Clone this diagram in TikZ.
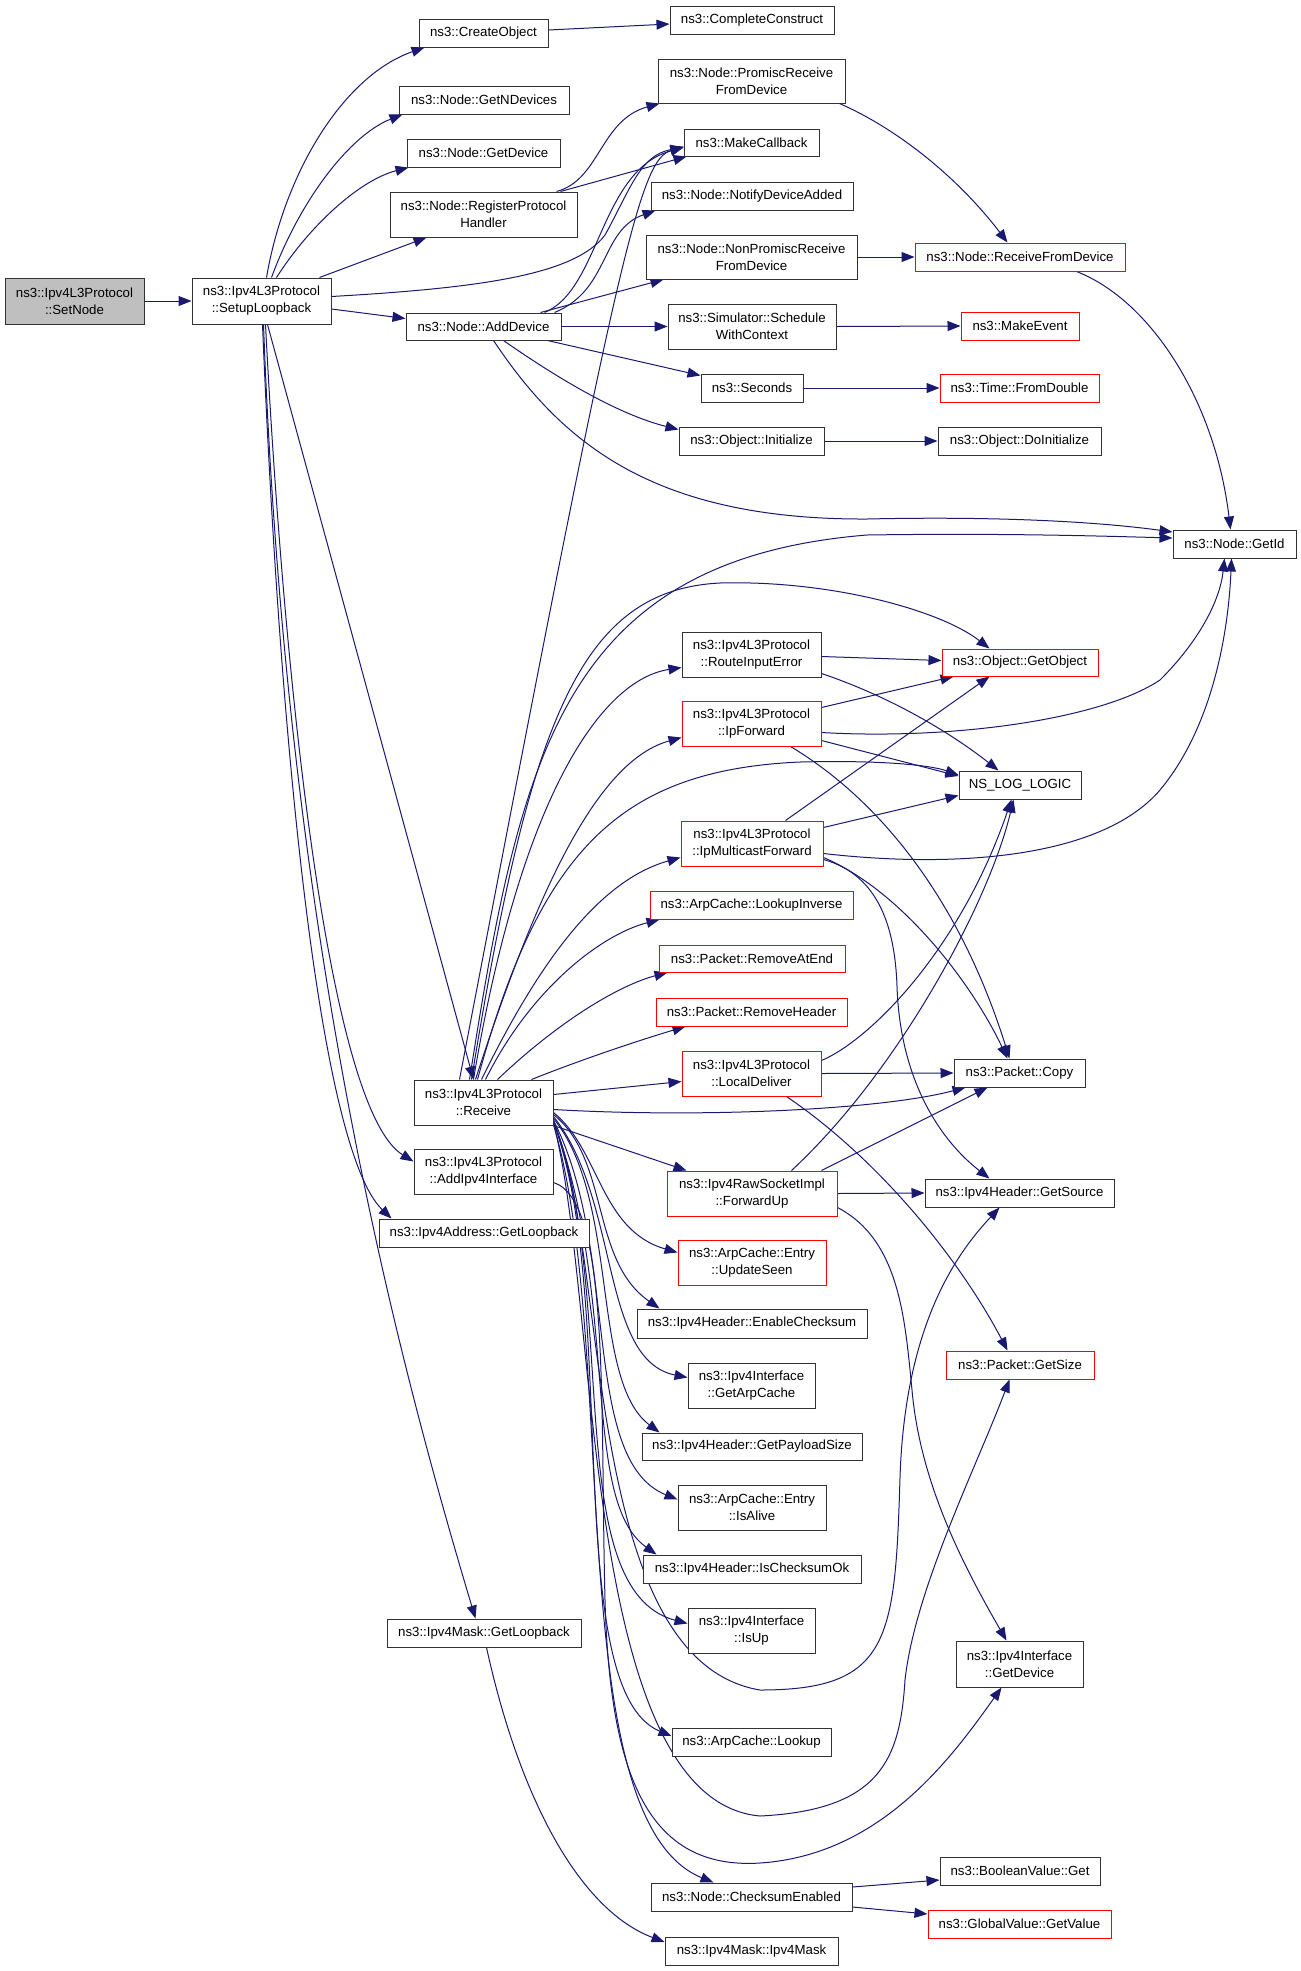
\documentclass[tikz,border=0pt]{standalone}
\usepackage{fontspec}
\setmainfont{Liberation Sans}
\usetikzlibrary{arrows.meta,calc}
\definecolor{edgec}{HTML}{191970}
\definecolor{grayfill}{HTML}{BFBFBF}
\definecolor{boxline}{HTML}{333333}
\pgfdeclarelayer{bg}
\pgfsetlayers{bg,main}
\newcommand\nd[7]{\node[box,#6,minimum width={((#4)-(#2))*1bp},minimum height={((#5)-(#3))*1bp}] (#1) at ({((#2)+(#4))/2},{((#3)+(#5))/2}) {#7};}
\tikzset{
  box/.style={draw=boxline, line width=1bp, inner sep=0pt, align=center, fill=white,
    font=\fontsize{13.3}{17}\selectfont},
  blk/.style={},
  redb/.style={draw=red},
  grayb/.style={fill=grayfill},
  e/.style={draw=edgec, line width=1bp, -{Triangle[length=13bp,width=10bp]}, fill=none}
}
\begin{document}
\begin{tikzpicture}[x=1bp,y=-1bp]
\useasboundingbox (0,0) rectangle (1301,1971);
\nd{setnode}{5}{278}{144}{324}{grayb}{ns3::Ipv4L3Protocol\\::SetNode}
\nd{setup}{192}{278}{331}{324}{blk}{ns3::Ipv4L3Protocol\\::SetupLoopback}
\nd{createobj}{419}{19}{548}{47}{blk}{ns3::CreateObject}
\nd{complete}{670}{6}{834}{34}{blk}{ns3::CompleteConstruct}
\nd{getndev}{399}{86}{569}{114}{blk}{ns3::Node::GetNDevices}
\nd{getdev}{407}{139}{560}{167}{blk}{ns3::Node::GetDevice}
\nd{regph}{390}{192}{577}{237}{blk}{ns3::Node::RegisterProtocol\\Handler}
\nd{adddev}{406}{313}{561}{340}{blk}{ns3::Node::AddDevice}
\nd{promisc}{658}{59}{845}{103}{blk}{ns3::Node::PromiscReceive\\FromDevice}
\nd{makecb}{684}{129}{819}{156}{blk}{ns3::MakeCallback}
\nd{notify}{651}{182}{853}{210}{blk}{ns3::Node::NotifyDeviceAdded}
\nd{nonpromisc}{646}{235}{857}{279}{blk}{ns3::Node::NonPromiscReceive\\FromDevice}
\nd{sched}{668}{304}{836}{349}{blk}{ns3::Simulator::Schedule\\WithContext}
\nd{seconds}{701}{374}{803}{402}{blk}{ns3::Seconds}
\nd{init}{679}{427}{824}{455}{blk}{ns3::Object::Initialize}
\nd{recvfrom}{915}{243}{1125}{271}{redb}{ns3::Node::ReceiveFromDevice}
\nd{makeevent}{961}{312}{1079}{340}{redb}{ns3::MakeEvent}
\nd{fromdouble}{940}{374}{1099}{402}{redb}{ns3::Time::FromDouble}
\nd{doinit}{938}{427}{1101}{455}{blk}{ns3::Object::DoInitialize}
\nd{getid}{1173}{530}{1296}{558}{blk}{ns3::Node::GetId}
\nd{getobj}{942}{649}{1098}{676}{redb}{ns3::Object::GetObject}
\nd{nslog}{959}{771}{1081}{799}{blk}{NS\_LOG\_LOGIC}
\nd{routeerr}{682}{632}{821}{677}{blk}{ns3::Ipv4L3Protocol\\::RouteInputError}
\nd{ipfwd}{682}{701}{821}{746}{redb}{ns3::Ipv4L3Protocol\\::IpForward}
\nd{ipmcast}{681}{821}{823}{866}{redb}{ns3::Ipv4L3Protocol\\::IpMulticastForward}
\nd{lookinv}{650}{891}{853}{919}{redb}{ns3::ArpCache::LookupInverse}
\nd{rmend}{659}{945}{845}{972}{redb}{ns3::Packet::RemoveAtEnd}
\nd{rmhdr}{656}{998}{847}{1026}{redb}{ns3::Packet::RemoveHeader}
\nd{localdel}{682}{1051}{821}{1096}{redb}{ns3::Ipv4L3Protocol\\::LocalDeliver}
\nd{receive}{414}{1080}{553}{1125}{blk}{ns3::Ipv4L3Protocol\\::Receive}
\nd{addif}{414}{1149}{553}{1194}{blk}{ns3::Ipv4L3Protocol\\::AddIpv4Interface}
\nd{addrloop}{379}{1219}{589}{1247}{blk}{ns3::Ipv4Address::GetLoopback}
\nd{fwdup}{667}{1171}{837}{1216}{redb}{ns3::Ipv4RawSocketImpl\\::ForwardUp}
\nd{updseen}{678}{1240}{826}{1285}{redb}{ns3::ArpCache::Entry\\::UpdateSeen}
\nd{enchk}{637}{1309}{867}{1338}{blk}{ns3::Ipv4Header::EnableChecksum}
\nd{getarp}{688}{1363}{815}{1408}{blk}{ns3::Ipv4Interface\\::GetArpCache}
\nd{paysize}{642}{1433}{862}{1460}{blk}{ns3::Ipv4Header::GetPayloadSize}
\nd{copy}{954}{1059}{1085}{1087}{blk}{ns3::Packet::Copy}
\nd{getsrc}{925}{1179}{1114}{1207}{blk}{ns3::Ipv4Header::GetSource}
\nd{getsize}{946}{1351}{1094}{1379}{redb}{ns3::Packet::GetSize}
\nd{isalive}{678}{1485}{826}{1530}{blk}{ns3::ArpCache::Entry\\::IsAlive}
\nd{ischk}{643}{1555}{861}{1583}{blk}{ns3::Ipv4Header::IsChecksumOk}
\nd{isup}{688}{1608}{815}{1653}{blk}{ns3::Ipv4Interface\\::IsUp}
\nd{lookup}{672}{1728}{831}{1756}{blk}{ns3::ArpCache::Lookup}
\nd{chkena}{651}{1883}{852}{1911}{blk}{ns3::Node::ChecksumEnabled}
\nd{maskctor}{665}{1937}{838}{1965}{blk}{ns3::Ipv4Mask::Ipv4Mask}
\nd{maskloop}{387}{1619}{581}{1647}{blk}{ns3::Ipv4Mask::GetLoopback}
\nd{ifdev}{956}{1641}{1083}{1687}{blk}{ns3::Ipv4Interface\\::GetDevice}
\nd{boolget}{940}{1857}{1100}{1885}{blk}{ns3::BooleanValue::Get}
\nd{globget}{928}{1910}{1111}{1938}{redb}{ns3::GlobalValue::GetValue}
\begin{pgfonlayer}{bg}
% SetNode / SetupLoopback
\draw[e] (setnode.east) -- (setup.west);
\draw[e] ($(setup.north west)+(75,0)$) .. controls (285,170) and (345,75) .. ($(createobj.south west)+(6,0)$);
\draw[e] ($(setup.north west)+(80,0)$) .. controls (300,200) and (350,135) .. ($(getndev.south west)+(4,0)$);
\draw[e] ($(setup.north west)+(85,0)$) .. controls (310,225) and (360,180) .. ($(getdev.south west)+(2,0)$);
\draw[e] ($(setup.north west)+(128,0)$) -- ($(regph.south west)+(37,0)$);
\draw[e] ($(setup.north east)+(0,19)$) .. controls (480,288) and (575,275) .. (605,235) .. controls (630,190) and (640,155) .. ($(makecb.west)+(0,5)$);
\draw[e] ($(setup.east)+(0,8)$) -- ($(adddev.west)+(0,-8)$);
\draw[e] ($(setup.south west)+(76,0)$) -- ($(receive.north west)+(60,0)$);
\draw[e] ($(setup.south west)+(74,0)$) .. controls (285,700) and (330,1110) .. ($(addif.west)+(0,-10)$);
\draw[e] ($(setup.south west)+(71,0)$) .. controls (280,750) and (320,1150) .. ($(addrloop.north west)+(13,0)$);
\draw[e] ($(setup.south west)+(72,0)$) .. controls (285,900) and (380,1300) .. ($(maskloop.north west)+(89,0)$);
% upper part
\draw[e] ($(createobj.east)+(0,-3)$) -- ($(complete.west)+(0,4)$);
\draw[e] ($(regph.north west)+(167,0)$) .. controls (600,180) and (600,120) .. ($(promisc.south west)+(2,0)$);
\draw[e] ($(regph.north west)+(171,0)$) -- ($(makecb.south west)+(3,0)$);
\draw[e] ($(adddev.north west)+(139,0)$) .. controls (600,290) and (600,170) .. ($(makecb.west)+(0,5)$);
\draw[e] ($(adddev.north west)+(149,0)$) .. controls (610,290) and (600,230) .. ($(notify.south west)+(5,0)$);
\draw[e] ($(adddev.north west)+(135,0)$) -- ($(nonpromisc.south west)+(18,0)$);
\draw[e] (adddev.east) -- (sched.west);
\draw[e] ($(adddev.south east)+(-14,0)$) -- ($(seconds.north west)+(0,2)$);
\draw[e] ($(adddev.south west)+(98,0)$) .. controls (560,380) and (620,415) .. ($(init.north west)+(0,3)$);
\draw[e] ($(adddev.south west)+(88,0)$) .. controls (560,440) and (650,520) .. (867,519) .. controls (1000,516) and (1100,522) .. ($(getid.west)+(0,-12)$);
\draw[e] ($(promisc.south east)+(-6,0)$) .. controls (900,130) and (960,180) .. ($(recvfrom.north west)+(93,0)$);
\draw[e] (nonpromisc.east) -- (recvfrom.west);
\draw[e] (sched.east) -- (makeevent.west);
\draw[e] (seconds.east) -- (fromdouble.west);
\draw[e] (init.east) -- (doinit.west);
\draw[e] ($(recvfrom.south west)+(162,0)$) .. controls (1150,300) and (1215,400) .. ($(getid.north west)+(58,0)$);
% Receive
\draw[e] ($(receive.north west)+(46,0)$) .. controls (620,240) and (640,160) .. ($(makecb.west)+(0,4)$);
\draw[e] ($(receive.north west)+(56,0)$) .. controls (520,760) and (560,560) .. (867,535) .. controls (1000,533) and (1100,536) .. ($(getid.west)+(0,-6)$);
\draw[e] ($(receive.north west)+(58,0)$) .. controls (530,720) and (580,590) .. (720,583) .. controls (830,580) and (940,610) .. ($(getobj.north west)+(48,0)$);
\draw[e] ($(receive.north west)+(60,0)$) .. controls (520,800) and (600,680) .. ($(routeerr.west)+(0,13)$);
\draw[e] ($(receive.north west)+(62,0)$) .. controls (540,880) and (600,760) .. ($(ipfwd.west)+(0,14)$);
\draw[e] ($(receive.north west)+(64,0)$) .. controls (540,850) and (620,770) .. (800,762) .. controls (880,760) and (930,765) .. ($(nslog.west)+(0,-10)$);
\draw[e] ($(receive.north west)+(68,0)$) .. controls (540,960) and (600,880) .. ($(ipmcast.west)+(0,14)$);
\draw[e] ($(receive.north west)+(72,0)$) .. controls (530,990) and (600,935) .. ($(lookinv.south west)+(10,0)$);
\draw[e] ($(receive.north west)+(84,0)$) .. controls (560,1020) and (620,985) .. ($(rmend.south west)+(9,0)$);
\draw[e] ($(receive.north west)+(118,0)$) .. controls (580,1060) and (640,1040) .. ($(rmhdr.south west)+(30,0)$);
\draw[e] ($(receive.east)+(0,-8)$) -- ($(localdel.west)+(0,8)$);
\draw[e] ($(receive.east)+(0,7)$) .. controls (700,1118) and (880,1110) .. ($(copy.south west)+(12,0)$);
\draw[e] (receive.south east) -- ($(fwdup.north west)+(20,0)$);
\draw[e] ($(receive.east)+(0,10)$) .. controls (600,1150) and (600,1230) .. ($(updseen.west)+(0,-10)$);
\draw[e] ($(receive.east)+(0,12)$) .. controls (610,1160) and (590,1260) .. ($(enchk.north west)+(23,0)$);
\draw[e] ($(receive.east)+(0,14)$) .. controls (620,1200) and (600,1360) .. ($(getarp.west)+(0,-8)$);
\draw[e] ($(receive.east)+(0,16)$) .. controls (620,1200) and (590,1380) .. ($(paysize.north west)+(18,0)$);
\draw[e] ($(receive.east)+(0,18)$) .. controls (620,1250) and (580,1460) .. ($(isalive.west)+(0,-8)$);
\draw[e] ($(receive.east)+(0,18)$) .. controls (620,1300) and (580,1500) .. ($(ischk.north west)+(14,0)$);
\draw[e] ($(receive.east)+(0,19)$) .. controls (620,1300) and (560,1590) .. ($(isup.west)+(0,-7)$);
\draw[e] ($(receive.east)+(0,20)$) .. controls (620,1300) and (560,1690) .. ($(lookup.west)+(0,-6)$);
\draw[e] ($(receive.east)+(0,20)$) .. controls (610,1250) and (580,1660) .. (760,1690) .. controls (890,1690) and (895,1640) .. (900,1478) .. controls (905,1320) and (960,1250) .. ($(getsrc.south west)+(75,0)$);
\draw[e] ($(receive.east)+(0,21)$) .. controls (600,1300) and (580,1800) .. (760,1816) .. controls (880,1810) and (900,1760) .. (905,1680) .. controls (915,1590) and (975,1470) .. ($(getsize.south west)+(64,0)$);
\draw[e] ($(receive.east)+(0,22)$) .. controls (620,1350) and (560,1820) .. ($(chkena.north west)+(63,0)$);
\draw[e] ($(addif.east)+(0,11)$) .. controls (610,1200) and (600,1400) .. (605,1600) .. controls (610,1780) and (650,1870) .. (760,1863) .. controls (880,1855) and (950,1760) .. ($(ifdev.south west)+(46,0)$);
% right part
\draw[e] ($(localdel.north east)+(0,10)$) .. controls (870,1040) and (960,950) .. ($(nslog.south west)+(53,0)$);
\draw[e] (localdel.east) -- (copy.west);
\draw[e] ($(localdel.south west)+(105,0)$) .. controls (880,1160) and (960,1260) .. ($(getsize.north west)+(62,0)$);
\draw[e] ($(fwdup.north west)+(125,0)$) .. controls (900,1070) and (990,900) .. ($(nslog.south west)+(55,0)$);
\draw[e] ($(fwdup.north east)+(-16,0)$) -- ($(copy.south west)+(34,0)$);
\draw[e] (fwdup.east) -- (getsrc.west);
\draw[e] ($(fwdup.east)+(0,14)$) .. controls (900,1240) and (905,1320) .. (912,1390) .. controls (920,1480) and (960,1560) .. ($(ifdev.north west)+(51,0)$);
\draw[e] ($(routeerr.east)+(0,2)$) -- ($(getobj.west)+(0,-2)$);
\draw[e] ($(routeerr.south east)+(0,-4)$) .. controls (900,700) and (960,740) .. ($(nslog.north west)+(40,0)$);
\draw[e] ($(ipfwd.north east)+(0,7)$) -- ($(getobj.south west)+(12,0)$);
\draw[e] ($(ipfwd.east)+(0,9)$) .. controls (950,740) and (1100,720) .. (1160,680) .. controls (1200,640) and (1220,600) .. ($(getid.south west)+(52,0)$);
\draw[e] ($(ipfwd.east)+(0,17)$) -- ($(nslog.west)+(0,-9)$);
\draw[e] ($(ipfwd.south west)+(109,0)$) .. controls (880,800) and (960,900) .. ($(copy.north west)+(56,0)$);
\draw[e] ($(ipmcast.north west)+(105,0)$) -- ($(getobj.south west)+(48,0)$);
\draw[e] ($(ipmcast.north east)+(0,7)$) -- ($(nslog.south west)+(0,-4)$);
\draw[e] ($(ipmcast.east)+(0,10)$) .. controls (950,868) and (1100,860) .. (1160,790) .. controls (1210,730) and (1228,640) .. ($(getid.south west)+(59,0)$);
\draw[e] ($(ipmcast.east)+(0,14)$) .. controls (900,890) and (970,980) .. ($(copy.north west)+(54,0)$);
\draw[e] ($(ipmcast.east)+(0,16)$) .. controls (880,875) and (895,930) .. (897,986) .. controls (900,1080) and (940,1140) .. ($(getsrc.north west)+(65,0)$);
\draw[e] ($(chkena.east)+(0,-10)$) -- ($(boolget.west)+(0,9)$);
\draw[e] ($(chkena.east)+(0,10)$) -- ($(globget.west)+(0,-10)$);
\draw[e] ($(maskloop.south west)+(100,0)$) .. controls (520,1800) and (580,1910) .. ($(maskctor.west)+(0,-9)$);
\end{pgfonlayer}
\end{tikzpicture}
\end{document}
